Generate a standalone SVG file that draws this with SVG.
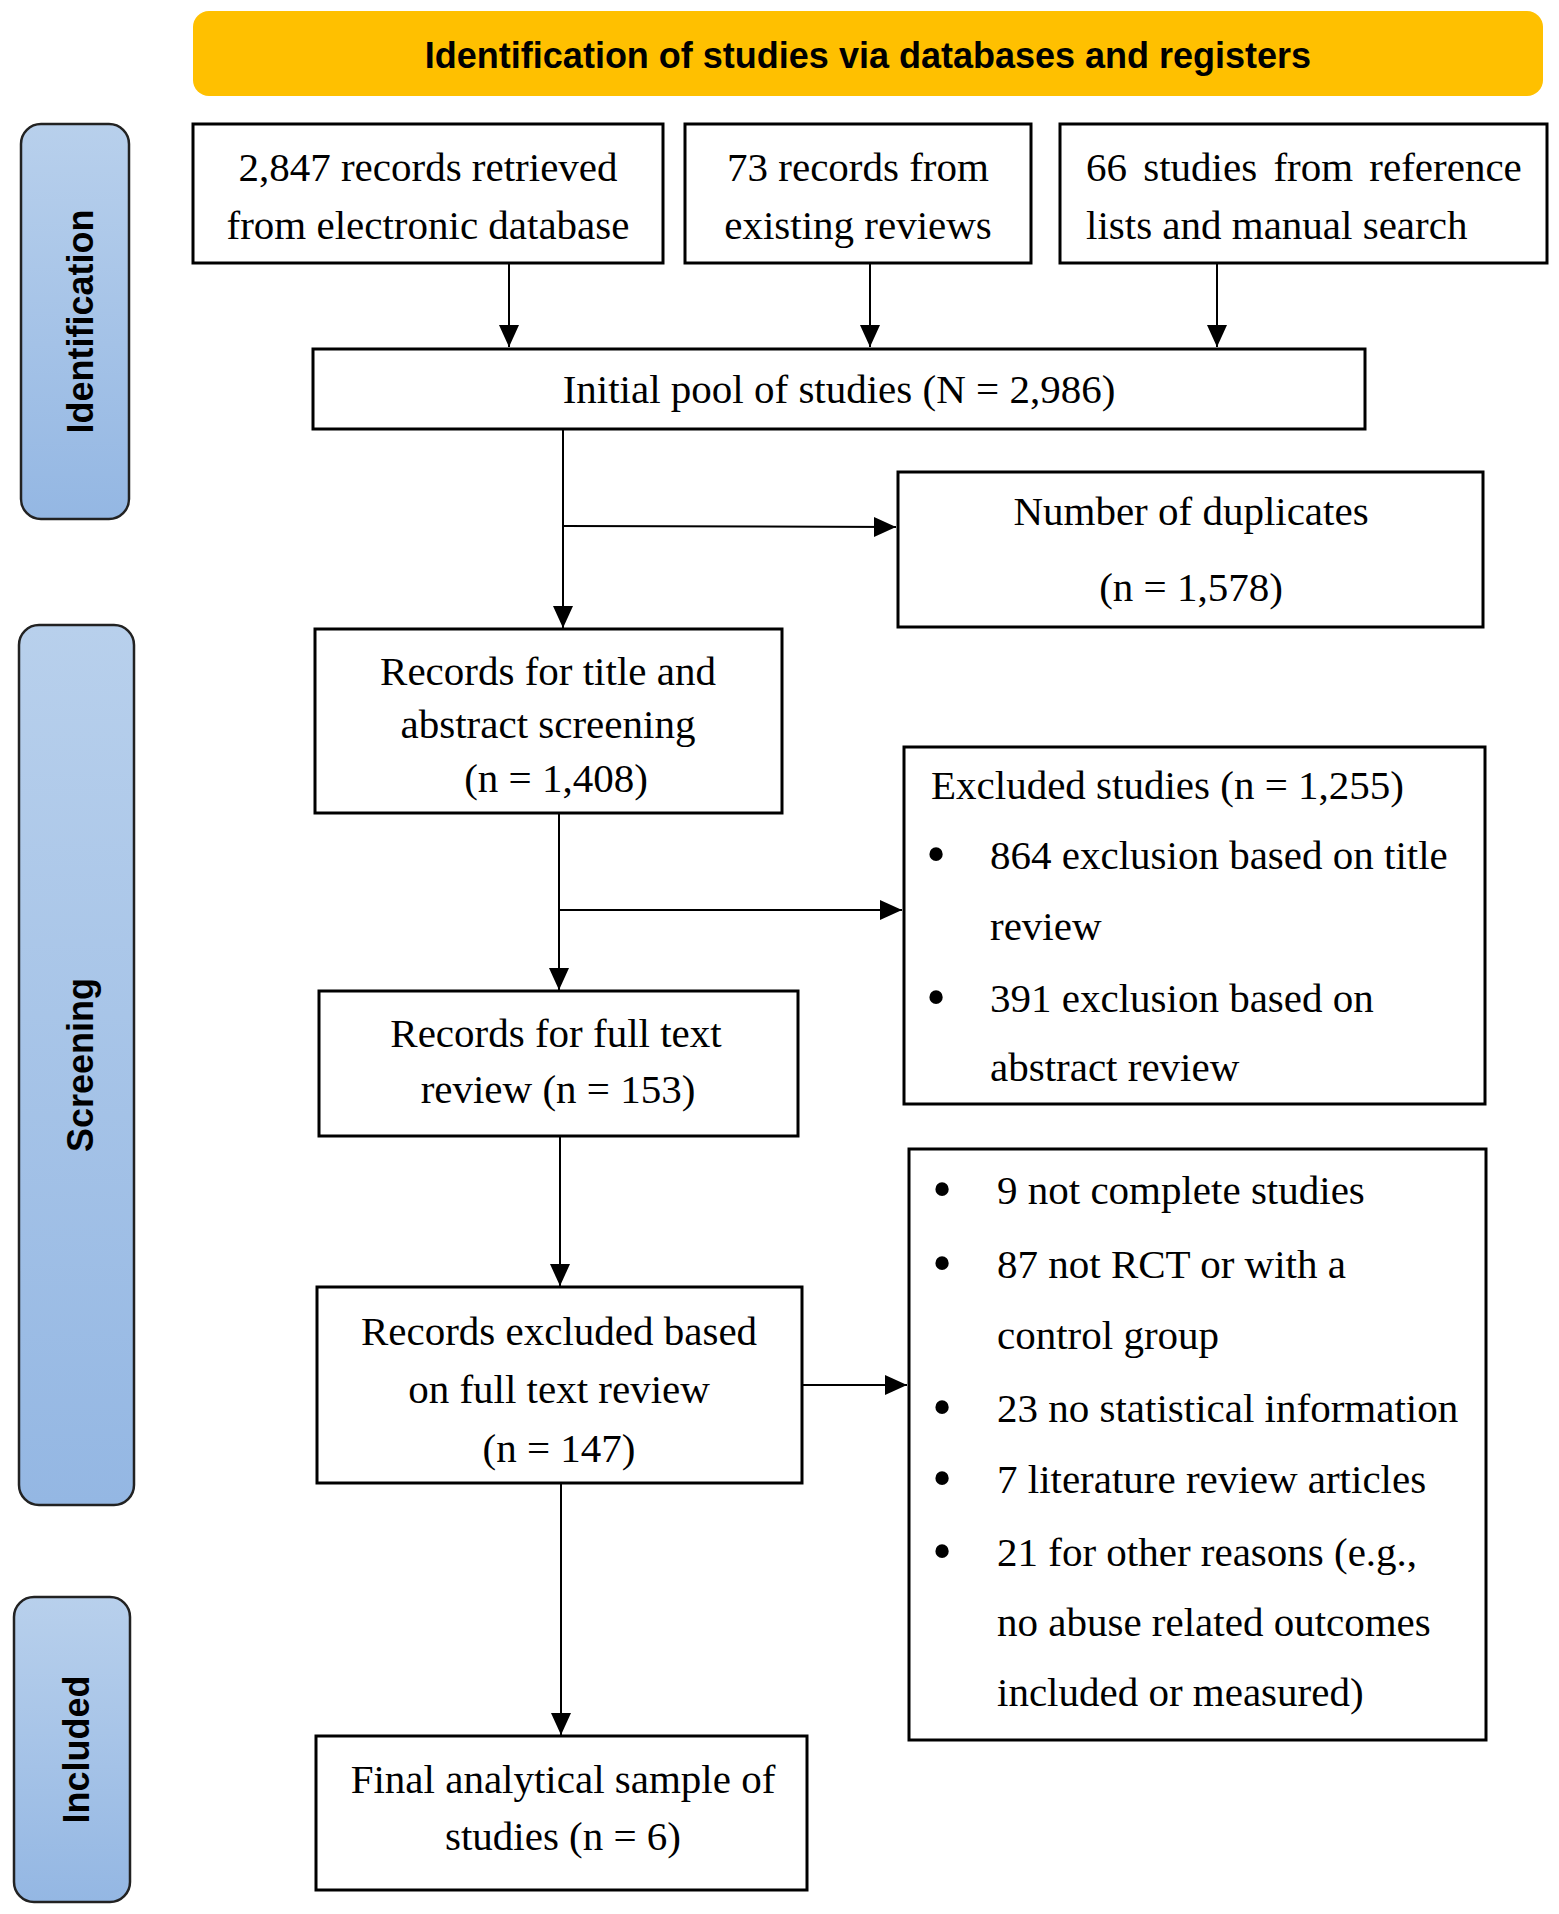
<svg xmlns="http://www.w3.org/2000/svg" width="1559" height="1914" viewBox="0 0 1559 1914">
<style>
.box{fill:#fff;stroke:#000;stroke-width:3}
.lane{stroke:#222;stroke-width:2.5}
.t{font-family:"Liberation Serif","Times New Roman",serif;font-size:41px;fill:#000}
.c{text-anchor:middle}
.b{font-family:"Liberation Serif","Times New Roman",serif;font-size:56px;fill:#000;text-anchor:middle}
.lt{font-family:"Liberation Sans",Arial,sans-serif;font-size:36px;font-weight:bold;fill:#000;text-anchor:middle}
.con{stroke:#000;stroke-width:2;fill:none}
</style>
<defs>
<linearGradient id="lg" x1="0" y1="0" x2="0" y2="1">
<stop offset="0" stop-color="#B8D0EC"/>
<stop offset="1" stop-color="#94B7E3"/>
</linearGradient>
<marker id="ah" markerUnits="userSpaceOnUse" markerWidth="22" markerHeight="22" viewBox="0 0 22 22" refX="22" refY="11" orient="auto">
<path d="M0,1 L22,11 L0,21 Z" fill="#000"/>
</marker>
</defs>
<g id="banner">
<rect x="193" y="11" width="1350" height="85" rx="16" fill="#FFC000"/>
<text class="lt" x="868" y="68">Identification of studies via databases and registers</text>
</g>
<g id="lane-identification">
<rect class="lane" x="21" y="124" width="108" height="395" rx="20" fill="url(#lg)"/>
<text class="lt" transform="translate(93,321.5) rotate(-90)">Identification</text>
</g>
<g id="lane-screening">
<rect class="lane" x="19" y="625" width="115" height="880" rx="20" fill="url(#lg)"/>
<text class="lt" transform="translate(93,1065) rotate(-90)">Screening</text>
</g>
<g id="lane-included">
<rect class="lane" x="14" y="1597" width="116" height="305" rx="20" fill="url(#lg)"/>
<text class="lt" transform="translate(89,1749.5) rotate(-90)">Included</text>
</g>
<g id="box-database">
<rect class="box" x="193" y="124" width="470" height="139"/>
<text class="t c" x="428" y="181">2,847 records retrieved</text>
<text class="t c" x="428" y="239">from electronic database</text>
</g>
<g id="box-reviews">
<rect class="box" x="685" y="124" width="346" height="139"/>
<text class="t c" x="858" y="181">73 records from</text>
<text class="t c" x="858" y="239">existing reviews</text>
</g>
<g id="box-reference">
<rect class="box" x="1060" y="124" width="487" height="139"/>
<text class="t" x="1086" y="181" word-spacing="6">66 studies from reference</text>
<text class="t" x="1086" y="239">lists and manual search</text>
</g>
<g id="box-initial">
<rect class="box" x="313" y="349" width="1052" height="80"/>
<text class="t c" x="839" y="403">Initial pool of studies (N = 2,986)</text>
</g>
<g id="box-duplicates">
<rect class="box" x="898" y="472" width="585" height="155"/>
<text class="t c" x="1191" y="525">Number of duplicates</text>
<text class="t c" x="1191" y="601">(n = 1,578)</text>
</g>
<g id="box-title-abstract">
<rect class="box" x="315" y="629" width="467" height="184"/>
<text class="t c" x="548" y="685">Records for title and</text>
<text class="t c" x="548" y="738">abstract screening</text>
<text class="t c" x="556" y="792">(n = 1,408)</text>
</g>
<g id="box-excluded-studies">
<rect class="box" x="904" y="747" width="581" height="357"/>
<text class="t" x="931" y="799">Excluded studies (n = 1,255)</text>
<text class="b" x="936" y="873">•</text>
<text class="t" x="990" y="869">864 exclusion based on title</text>
<text class="t" x="990" y="940">review</text>
<text class="b" x="936" y="1016">•</text>
<text class="t" x="990" y="1012">391 exclusion based on</text>
<text class="t" x="990" y="1081">abstract review</text>
</g>
<g id="box-full-text">
<rect class="box" x="319" y="991" width="479" height="145"/>
<text class="t c" x="556" y="1047">Records for full text</text>
<text class="t c" x="558" y="1103">review (n = 153)</text>
</g>
<g id="box-excluded-full">
<rect class="box" x="317" y="1287" width="485" height="196"/>
<text class="t c" x="559" y="1345">Records excluded based</text>
<text class="t c" x="559" y="1403">on full text review</text>
<text class="t c" x="559" y="1462">(n = 147)</text>
</g>
<g id="box-reasons">
<rect class="box" x="909" y="1149" width="577" height="591"/>
<text class="b" x="942" y="1208">•</text>
<text class="t" x="997" y="1204">9 not complete studies</text>
<text class="b" x="942" y="1282">•</text>
<text class="t" x="997" y="1278">87 not RCT or with a</text>
<text class="t" x="997" y="1349">control group</text>
<text class="b" x="942" y="1426">•</text>
<text class="t" x="997" y="1422">23 no statistical information</text>
<text class="b" x="942" y="1497">•</text>
<text class="t" x="997" y="1493">7 literature review articles</text>
<text class="b" x="942" y="1570">•</text>
<text class="t" x="997" y="1566">21 for other reasons (e.g.,</text>
<text class="t" x="997" y="1636">no abuse related outcomes</text>
<text class="t" x="997" y="1706">included or measured)</text>
</g>
<g id="box-final">
<rect class="box" x="316" y="1736" width="491" height="154"/>
<text class="t c" x="563" y="1793">Final analytical sample of</text>
<text class="t c" x="563" y="1850">studies (n = 6)</text>
</g>
<g id="connectors">
<line class="con" x1="509" y1="263" x2="509" y2="347" marker-end="url(#ah)"/>
<line class="con" x1="870" y1="263" x2="870" y2="347" marker-end="url(#ah)"/>
<line class="con" x1="1217" y1="263" x2="1217" y2="347" marker-end="url(#ah)"/>
<line class="con" x1="563" y1="429" x2="563" y2="628" marker-end="url(#ah)"/>
<line class="con" x1="563" y1="526" x2="896" y2="527" marker-end="url(#ah)"/>
<line class="con" x1="559" y1="813" x2="559" y2="990" marker-end="url(#ah)"/>
<line class="con" x1="559" y1="910" x2="902" y2="910" marker-end="url(#ah)"/>
<line class="con" x1="560" y1="1136" x2="560" y2="1286" marker-end="url(#ah)"/>
<line class="con" x1="802" y1="1385" x2="907" y2="1385" marker-end="url(#ah)"/>
<line class="con" x1="561" y1="1483" x2="561" y2="1735" marker-end="url(#ah)"/>
</g>
</svg>
